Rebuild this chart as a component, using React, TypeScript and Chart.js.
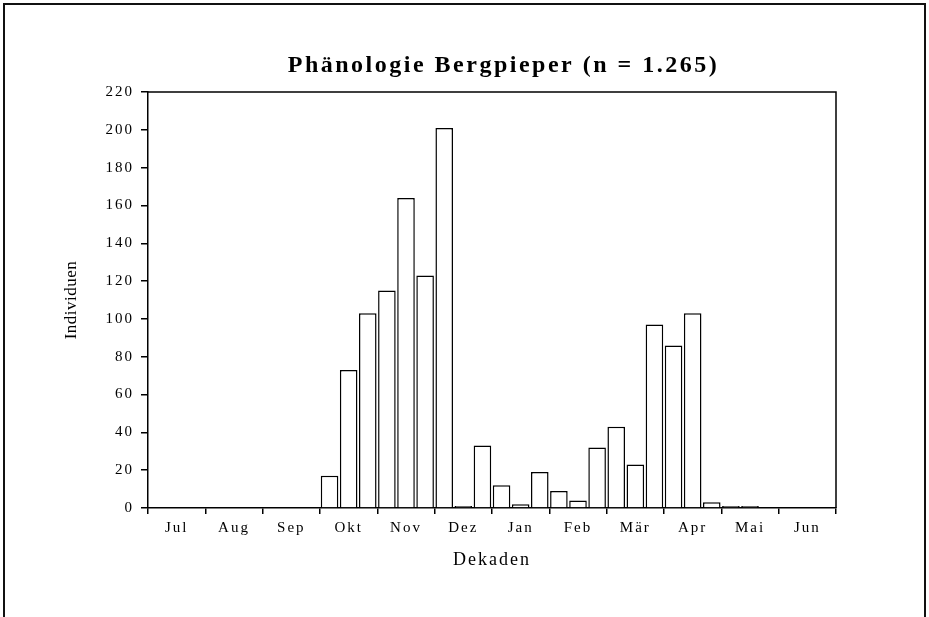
import React, { useEffect, useRef } from 'react';
import { Chart, registerables } from 'chart.js';

Chart.register(...registerables);

const MONTHS = ['Jul', 'Aug', 'Sep', 'Okt', 'Nov', 'Dez', 'Jan', 'Feb', 'Mär', 'Apr', 'Mai', 'Jun'];
const DECADE_SUFFIX = ['I', 'II', 'III'];
const DECADES = MONTHS.flatMap((m) => DECADE_SUFFIX.map((d) => `${m} ${d}`));
const INDIVIDUALS = [
  0, 0, 0,
  0, 0, 0,
  0, 0, 0,
  17, 73, 103,
  115, 164, 123,
  201, 1, 33,
  12, 2, 19,
  9, 4, 32,
  43, 23, 97,
  86, 103, 3,
  1, 1, 0,
  0, 0, 0,
];
const Y_MIN = 0;
const Y_MAX = 220;
const Y_STEP = 20;
const TITLE = 'Phänologie Bergpieper (n = 1.265)';
const X_TITLE = 'Dekaden';
const Y_TITLE = 'Individuen';

const FONT = 'Liberation Serif';

export default function App() {
  const ref = useRef<HTMLCanvasElement>(null);

  useEffect(() => {
    const canvas = ref.current!;
    const ctx = canvas.getContext('2d')! as any;
    const origFill = ctx.fillText;
    ctx.fillText = function (text: string, x: number, y: number, maxWidth?: number) {
      const prev = this.letterSpacing;
      const t = String(text);
      this.letterSpacing =
        t === Y_TITLE ? '0.5px' : t === X_TITLE ? '2px' : t === TITLE ? '2.5px' : '2px';
      if (maxWidth === undefined) origFill.call(this, text, x, y);
      else origFill.call(this, text, x, y, maxWidth);
      this.letterSpacing = prev;
    };

    const framePlugin = {
      id: 'frameTopRight',
      afterDraw(chart: any) {
        const { ctx: c, chartArea } = chart;
        c.save();
        c.strokeStyle = '#000';
        c.lineWidth = 1.5;
        c.beginPath();
        c.moveTo(chartArea.left, chartArea.top);
        c.lineTo(chartArea.right, chartArea.top);
        c.lineTo(chartArea.right, chartArea.bottom);
        c.stroke();
        c.restore();
      },
    };

    const chart = new Chart(canvas, {
      type: 'bar',
      data: {
        labels: DECADES,
        datasets: [
          {
            data: INDIVIDUALS,
            backgroundColor: '#ffffff',
            borderColor: '#000000',
            borderWidth: 1.5,
            barPercentage: 0.92,
            categoryPercentage: 1,
          },
        ],
      },
      options: {
        animation: false,
        responsive: false,
        maintainAspectRatio: false,
        layout: { padding: { left: 78, right: 0, top: 0, bottom: 0 } },
        plugins: {
          legend: { display: false },
          tooltip: { enabled: false },
          title: {
            display: true,
            text: TITLE,
            color: '#000',
            font: { family: FONT, size: 24, weight: 'bold', lineHeight: 1.2 },
            padding: { top: 51.6, bottom: 11.6 },
          },
        },
        scales: {
          x: {
            grid: {
              offset: true,
              drawOnChartArea: false,
              tickLength: 6,
              lineWidth: 1.5,
              color: (c: any) => (c.type !== 'tick' || c.index % 3 === 0 ? '#000' : 'rgba(0,0,0,0)'),
            },
            border: { display: true, color: '#000', width: 1.5 },
            ticks: {
              autoSkip: false,
              maxRotation: 0,
              minRotation: 0,
              padding: 5,
              color: '#000',
              font: { family: FONT, size: 15 },
              callback: (_v: any, i: number) => (i % 3 === 1 ? MONTHS[Math.floor(i / 3)] : ''),
            },
            title: {
              display: true,
              text: X_TITLE,
              color: '#000',
              font: { family: FONT, size: 18, lineHeight: 1.2 },
              padding: { top: 0, bottom: 46.2 },
            },
            afterFit: (s: any) => {
              s.height = 109;
            },
          },
          y: {
            min: Y_MIN,
            max: Y_MAX,
            grid: { drawOnChartArea: false, tickLength: 7, color: '#000', lineWidth: 1.5 },
            border: { display: true, color: '#000', width: 1.5 },
            ticks: {
              stepSize: Y_STEP,
              padding: 7,
              color: '#000',
              font: { family: FONT, size: 15 },
            },
            title: {
              display: true,
              text: Y_TITLE,
              color: '#000',
              font: { family: FONT, size: 17, lineHeight: 1.2 },
              padding: { top: -16.2, bottom: 0 },
            },
            afterFit: (s: any) => {
              s.width = 70;
            },
          },
          y2: {
            position: 'right',
            display: true,
            grid: { display: false },
            ticks: { display: false },
            border: { display: false },
            afterFit: (s: any) => {
              s.width = 93;
            },
          },
        },
      } as any,
      plugins: [framePlugin],
    });

    return () => {
      chart.destroy();
      ctx.fillText = origFill;
    };
  }, []);

  return (
    <div
      style={{
        position: 'absolute',
        left: 0,
        top: 0,
        width: 929,
        height: 617,
        overflow: 'hidden',
        background: '#fff',
      }}
    >
      <div
        style={{
          position: 'absolute',
          left: 3,
          top: 3,
          width: 919,
          height: 680,
          border: '2px solid #111',
        }}
      />
      <canvas
        ref={ref}
        width={929}
        height={617}
        style={{ position: 'absolute', left: 0, top: 0, width: 929, height: 617 }}
      />
    </div>
  );
}
